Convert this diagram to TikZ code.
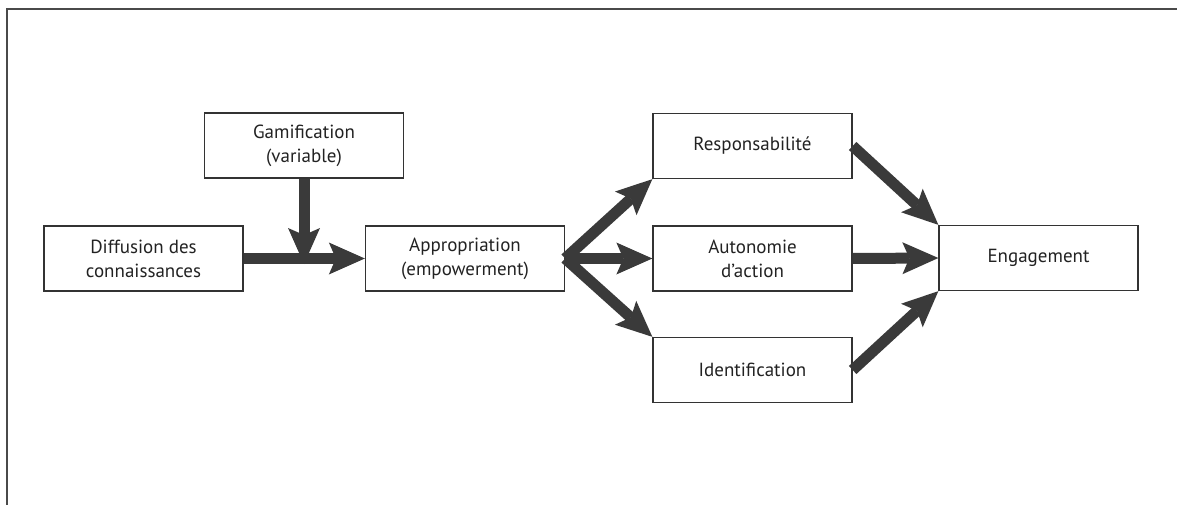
\documentclass[tikz,border=0pt]{standalone}
\usepackage{fontspec}
\setmainfont{PT Sans}
\usetikzlibrary{arrows.meta}
\definecolor{framegray}{HTML}{4A4A4A}
\definecolor{boxline}{HTML}{333333}
\definecolor{arrowgray}{HTML}{3A3A3A}
\definecolor{textcol}{HTML}{222222}
\begin{document}
\begin{tikzpicture}[x=1pt,y=-1pt,
  box/.style={draw=boxline, line width=1.3pt, minimum width=199pt, minimum height=65pt,
    inner sep=0pt, align=center, text=textcol, font=\fontsize{19}{24}\selectfont},
  arr/.style={draw=arrowgray, line width=11pt,
    -{Stealth[length=36pt, width=32pt, inset=7pt, line width=0pt]}}]
\useasboundingbox (0,0) rectangle (1177,505);
% open frame: top and left edges only
\draw[framegray, line width=2pt] (7,505) -- (7,9) -- (1177,9);

\node[box] (diff) at (143.5,258.5) {Diffusion des\\connaissances};
\node[box] (gam)  at (304,145.5) {Gamification\\(variable)};
\node[box] (appr) at (465,258.5) {Appropriation\\(empowerment)};
\node[box] (resp) at (752.5,146) {Responsabilité};
\node[box] (auto) at (752.5,258.5) {Autonomie\\d’action};
\node[box] (iden) at (752.5,370) {Identification};
\node[box] (eng)  at (1038.5,258) {Engagement};

% moderating arrow ends on top of the main shaft
\coordinate (join) at ([yshift=-5.5pt]gam.south |- diff.east);

\draw[arr] (diff.east) -- (appr.west);
\draw[arr] (gam.south) -- (join);
\draw[arr] (appr.east) -- (resp.south west);
\draw[arr] (appr.east) -- (auto.west);
\draw[arr] (appr.east) -- (iden.north west);
\draw[arr] (resp.east) -- (eng.north west);
\draw[arr] (auto.east) -- (eng.west);
\draw[arr] (iden.east) -- (eng.south west);
\end{tikzpicture}
\end{document}
